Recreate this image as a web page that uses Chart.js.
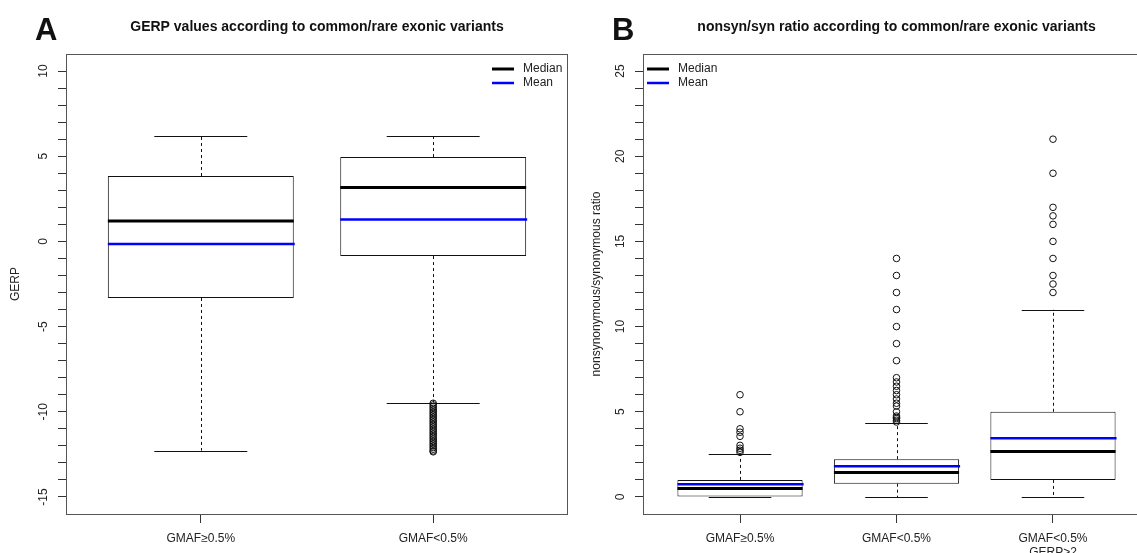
<!DOCTYPE html>
<html lang="en">
<head>
<meta charset="UTF-8">
<title>GERP and nonsyn/syn ratio by variant frequency</title>
<script src="https://cdn.jsdelivr.net/npm/chart.js@4.4.1/dist/chart.umd.min.js"></script>
<style>
  body { margin: 0; background: #fff; overflow: hidden; }
  #panelA { position: absolute; left: 0; top: 0; }
  #panelB { position: absolute; left: 570px; top: 0; }
</style>
</head>
<body>

<canvas id="panelA" width="570" height="553"></canvas>
<canvas id="panelB" width="590" height="553"></canvas>

<script>

// ---- panel A : GERP values ----
var gerpGroups = ['GMAF≥0.5%', 'GMAF<0.5%'];
var gerpLow    = [-12.28, -9.46];
var gerpQ1     = [-3.32, -0.86];
var gerpMedian = [1.2, 3.17];
var gerpMean   = [-0.15, 1.28];
var gerpQ3     = [3.84, 4.95];
var gerpHigh   = [6.19, 6.19];
// outliers of the rare group (very dense column below the lower whisker)
var gerpOutliers2 = [-9.5, -9.6, -9.7, -9.8, -9.9, -10.0, -10.1, -10.2, -10.3, -10.4, -10.5, -10.6,
                     -10.7, -10.8, -10.9, -11.0, -11.1, -11.2, -11.3, -11.4, -11.5, -11.6, -11.7,
                     -11.8, -11.9, -12.0, -12.1, -12.2, -12.3, -12.35];
var gerpTicks = [-15, -14, -13, -12, -11, -10, -9, -8, -7, -6, -5, -4, -3, -2, -1,
                 0, 1, 2, 3, 4, 5, 6, 7, 8, 9, 10];

// ---- panel B : nonsyn/syn ratio ----
var ratioGroups = ['GMAF≥0.5%', 'GMAF<0.5%', ['GMAF<0.5%', 'GERP>2']];
var ratioLow    = [0, 0, 0];
var ratioQ1     = [0, 0.78, 1.0];
var ratioMedian = [0.5, 1.43, 2.67];
var ratioMean   = [0.75, 1.8, 3.45];
var ratioQ3     = [1.0, 2.22, 5.0];
var ratioHigh   = [2.5, 4.33, 11];
var ratioOutliers1 = [6, 5, 4, 3.8, 3.56, 3.03, 2.86, 2.74, 2.62];
var ratioOutliers2 = [14, 13, 12, 11, 10, 9, 8, 7, 6.75, 6.5, 6.25, 6, 5.75, 5.5, 5.33, 5,
                      4.75, 4.67, 4.6, 4.5, 4.4];
var ratioOutliers3 = [21, 19, 17, 16.5, 16, 15, 14, 13, 12.5, 12];
var ratioTicks = [0, 1, 2, 3, 4, 5, 6, 7, 8, 9, 10, 11, 12, 13, 14, 15, 16, 17, 18, 19,
                  20, 21, 22, 23, 24, 25];


Chart.defaults.font.family = "'Liberation Sans', Arial, Helvetica, sans-serif";
Chart.defaults.font.size = 12;
Chart.defaults.color = '#222';


// draws whiskers, staples, median / mean lines, frame, titles and legend
function boxPlugin(s) {
  return {
    id: 'boxPlugin',
    beforeDatasetsDraw: function(chart) {
      var ctx = chart.ctx, x = chart.scales.x, y = chart.scales.y;
      ctx.save();
      ctx.strokeStyle = '#111';
      ctx.lineWidth = 1;
      for (var i = 0; i < s.median.length; i++) {
        var px = Math.round(x.getPixelForValue(i + 1)) + 0.5;
        ctx.setLineDash([3, 3]);
        ctx.beginPath();
        ctx.moveTo(px, y.getPixelForValue(s.q3[i]));
        ctx.lineTo(px, y.getPixelForValue(s.high[i]));
        ctx.moveTo(px, y.getPixelForValue(s.q1[i]));
        ctx.lineTo(px, y.getPixelForValue(s.low[i]));
        ctx.stroke();
        ctx.setLineDash([]);
        var l = x.getPixelForValue(i + 1 - 0.2), r = x.getPixelForValue(i + 1 + 0.2);
        [s.high[i], s.low[i]].forEach(function(v) {
          var py = Math.round(y.getPixelForValue(v)) + 0.5;
          ctx.beginPath();
          ctx.moveTo(l, py);
          ctx.lineTo(r, py);
          ctx.stroke();
        });
      }
      ctx.restore();
    },
    afterDatasetsDraw: function(chart) {
      var ctx = chart.ctx, x = chart.scales.x, y = chart.scales.y;
      ctx.save();
      for (var i = 0; i < s.median.length; i++) {
        var l = x.getPixelForValue(i + 1 - 0.4), r = x.getPixelForValue(i + 1 + 0.4);
        ctx.strokeStyle = '#000';
        ctx.lineWidth = 3;
        ctx.beginPath();
        ctx.moveTo(l, y.getPixelForValue(s.median[i]));
        ctx.lineTo(r, y.getPixelForValue(s.median[i]));
        ctx.stroke();
        ctx.strokeStyle = '#0000ff';
        ctx.lineWidth = 2.5;
        ctx.beginPath();
        ctx.moveTo(l, y.getPixelForValue(s.mean[i]));
        ctx.lineTo(r + 1, y.getPixelForValue(s.mean[i]));
        ctx.stroke();
      }
      ctx.restore();
    },
    afterDraw: function(chart) {
      var ctx = chart.ctx, a = chart.chartArea;
      ctx.save();
      // frame
      ctx.strokeStyle = '#555';
      ctx.lineWidth = 1;
      ctx.strokeRect(Math.round(a.left) + 0.5, Math.round(a.top) + 0.5,
                     Math.round(a.right - a.left) - 1, Math.round(a.bottom - a.top));
      // title and panel letter
      ctx.fillStyle = '#111';
      ctx.textBaseline = 'middle';
      ctx.textAlign = 'center';
      ctx.font = "bold 14px 'Liberation Sans', Arial, sans-serif";
      ctx.fillText(s.title, (a.left + a.right) / 2, 27);
      ctx.textAlign = 'left';
      ctx.textBaseline = 'alphabetic';
      ctx.font = "bold 31px 'Liberation Sans', Arial, sans-serif";
      ctx.fillText(s.letter, s.letterX, 40);
      // legend
      var lx = s.legendLeft ? a.left + 4 : a.right - 76;
      var rows = [['Median', '#000', 3], ['Mean', '#0000ff', 2.5]];
      ctx.font = "12px 'Liberation Sans', Arial, sans-serif";
      ctx.textBaseline = 'middle';
      rows.forEach(function(row, k) {
        var ly = a.top + 15 + k * 14;
        ctx.strokeStyle = row[1];
        ctx.lineWidth = row[2];
        ctx.beginPath();
        ctx.moveTo(lx, ly);
        ctx.lineTo(lx + 22, ly);
        ctx.stroke();
        ctx.fillStyle = '#222';
        ctx.fillText(row[0], lx + 31, ly);
      });
      ctx.restore();
    }
  };
}


function makeBoxChart(id, o) {
  var boxes = o.q1.map(function(q, i) { return {x: i + 1, y: [q, o.q3[i]]}; });
  var points = [];
  o.outliers.forEach(function(list, i) {
    list.forEach(function(v) { points.push({x: i + 1, y: v}); });
  });

  return new Chart(document.getElementById(id), {
    type: 'bar',
    data: {
      datasets: [{
        type: 'scatter',
        data: points,
        pointRadius: 3.3,
        pointBorderWidth: 1,
        pointBorderColor: '#111',
        pointBackgroundColor: 'rgba(0,0,0,0)'
      }, {
        type: 'bar',
        data: boxes,
        backgroundColor: '#fff',
        borderColor: '#111',
        borderWidth: 1,
        borderSkipped: false,
        barPercentage: 0.8,
        categoryPercentage: 1
      }]
    },
    options: {
      responsive: false,
      animation: false,
      events: [],
      layout: { autoPadding: false, padding: { top: 54, right: o.padRight, left: 0, bottom: 0 } },
      plugins: { legend: { display: false }, tooltip: { enabled: false } },
      scales: {
        x: {
          type: 'linear',
          offset: false,
          min: 0.5 - 0.04 * o.groups.length,
          max: o.groups.length + 0.5 + 0.04 * o.groups.length,
          border: { display: false },
          grid: { offset: false, drawOnChartArea: false, drawTicks: true, tickLength: 9, color: '#333' },
          afterBuildTicks: function(scale) {
            scale.ticks = o.groups.map(function(g, i) { return {value: i + 1}; });
          },
          afterFit: function(scale) { scale.height = 39; },
          ticks: {
            padding: 8.5,
            autoSkip: false,
            maxRotation: 0,
            callback: function(v) { return o.groups[Math.round(v) - 1]; }
          }
        },
        y: {
          min: o.yMin,
          max: o.yMax,
          border: { display: false },
          grid: { drawOnChartArea: false, drawTicks: true, tickLength: 8, color: '#333' },
          afterBuildTicks: function(scale) {
            scale.ticks = o.ticks.map(function(v) { return {value: v}; });
          },
          afterFit: function(scale) { scale.width = o.axisWidth; },
          title: {
            display: true,
            text: o.yTitle,
            color: '#222',
            font: { size: 12 },
            padding: { top: o.titlePad, bottom: 0 }
          },
          ticks: {
            autoSkip: false,
            minRotation: 90,
            maxRotation: 90,
            crossAlign: 'center',
            padding: o.tickPad,
            callback: function(v) { return v % 5 === 0 ? String(v) : ''; }
          }
        }
      }
    },
    plugins: [boxPlugin(o)]
  });
}


makeBoxChart('panelA', {
  groups: gerpGroups, low: gerpLow, q1: gerpQ1, median: gerpMedian, mean: gerpMean,
  q3: gerpQ3, high: gerpHigh, outliers: [[], gerpOutliers2], ticks: gerpTicks,
  yMin: -16, yMax: 11, yTitle: 'GERP',
  axisWidth: 66, padRight: 2, titlePad: 8.8, tickPad: 6,
  title: 'GERP values according to common/rare exonic variants',
  letter: 'A', letterX: 35, legendLeft: false
});

makeBoxChart('panelB', {
  groups: ratioGroups, low: ratioLow, q1: ratioQ1, median: ratioMedian, mean: ratioMean,
  q3: ratioQ3, high: ratioHigh, outliers: [ratioOutliers1, ratioOutliers2, ratioOutliers3],
  ticks: ratioTicks,
  yMin: -1, yMax: 26, yTitle: 'nonsynonymous/synonymous ratio',
  axisWidth: 73, padRight: 10, titlePad: 19.8, tickPad: 7.3,
  title: 'nonsyn/syn ratio according to common/rare exonic variants',
  letter: 'B', letterX: 42, legendLeft: true
});

</script>

</body>
</html>
